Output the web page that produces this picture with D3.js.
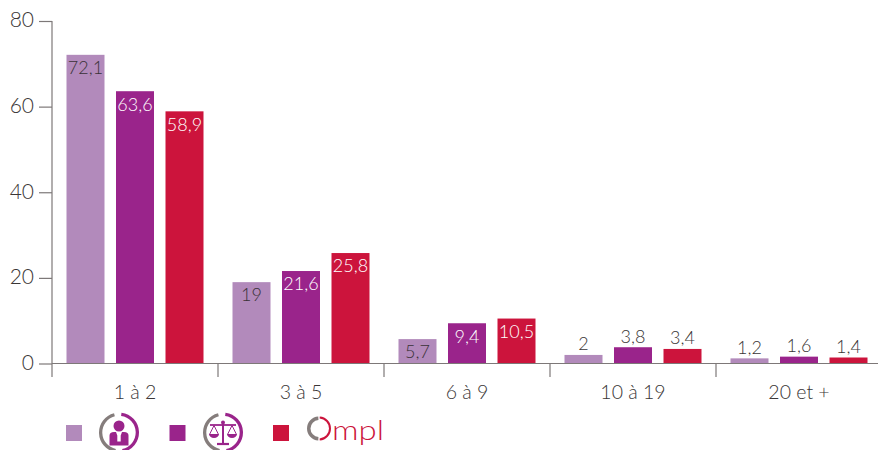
<!DOCTYPE html>
<html><head><meta charset="utf-8">
<script src="https://cdn.jsdelivr.net/npm/d3@7/dist/d3.min.js"></script>
<style>html,body{margin:0;padding:0;background:#fff}svg{display:block}</style>
</head><body><svg id="c" width="878" height="450"></svg>
<script>
const categories = ["1 à 2","3 à 5","6 à 9","10 à 19","20 et +"];
const seriesA = [72.1,19,5.7,2,1.2];
const seriesB = [63.6,21.6,9.4,3.8,1.6];
const seriesC = [58.9,25.8,10.5,3.4,1.4];
const seriesNames = ["a","b","c"];
const seriesColors = ["#b28abb","#9a248b","#cc143c"];
const textColors = ["#3a3238","#ffffff","#ffffff"];
const yTicks = [0,20,40,60,80];
const fontStack = "'Lato','Open Sans',sans-serif";
const axisColor = "#7d7878";
const labelColor = "#3a3636";

const svg = d3.select("#c");
const x0 = d3.scaleBand().domain(categories).range([52,882]);
const x1 = d3.scaleBand().domain(seriesNames).range([14.5,151.5]).paddingInner(0.2323);
const y = d3.scaleLinear().domain([0,80]).range([363.5,21]);
const values = [seriesA,seriesB,seriesC];

// bars
seriesNames.forEach((s,si)=>{
  const g = svg.append("g");
  g.selectAll("rect").data(values[si]).join("rect")
    .attr("x",(d,i)=>x0(categories[i])+x1(s))
    .attr("y",d=>y(d)).attr("width",x1.bandwidth())
    .attr("height",d=>y(0)-y(d)).attr("fill",seriesColors[si]);
  g.selectAll("text").data(values[si]).join("text")
    .attr("x",(d,i)=>x0(categories[i])+x1(s)+x1.bandwidth()/2)
    .attr("y",d=> d>=5 ? y(d)+13 : y(d)-11)
    .attr("dy","0.35em").attr("text-anchor","middle")
    .attr("font-family",fontStack).attr("font-size",18).attr("font-weight",300)
    .attr("fill",d=> d>=5 ? textColors[si] : labelColor)
    .text(d=>String(d).replace(".",","));
});

// axes
const yAxis = d3.axisLeft(y).tickValues(yTicks).tickSize(13).tickPadding(5);
const gy = svg.append("g").attr("transform","translate(52,0)").call(yAxis);
gy.select(".domain").remove();
gy.append("line").attr("y1",y(80)).attr("y2",377).attr("stroke",axisColor).attr("stroke-width",1.2);
gy.selectAll(".tick line").attr("stroke",axisColor).attr("stroke-width",1.2);
gy.selectAll(".tick text").attr("font-family",fontStack).attr("font-size",21).attr("font-weight",300).attr("fill",labelColor).attr("dy","0.28em");

const xAxis = d3.axisBottom(x0).tickSize(0).tickPadding(21.5);
const gx = svg.append("g").attr("transform",`translate(0,${y(0)})`).call(xAxis);
gx.select(".domain").remove();
gx.append("line").attr("x1",52).attr("x2",878).attr("stroke",axisColor).attr("stroke-width",1.2);
gx.selectAll(".sep").data(categories.slice(1)).join("line").attr("class","sep")
  .attr("x1",d=>x0(d)).attr("x2",d=>x0(d)).attr("y1",0).attr("y2",13.5)
  .attr("stroke",axisColor).attr("stroke-width",1.2);
gx.selectAll(".tick text").attr("font-family",fontStack).attr("font-size",19.5).attr("font-weight",300).attr("fill",labelColor);

// legend
const legendX = d3.scalePoint().domain(seriesNames).range([66,273]);
svg.selectAll(".sw").data(seriesNames).join("rect").attr("class","sw")
  .attr("x",d=>legendX(d)).attr("y",425).attr("width",16).attr("height",16)
  .attr("fill",(d,i)=>seriesColors[i]);

const arc = d3.arc();
function ring(cx,cy){
  const g = svg.append("g").attr("transform",`translate(${cx},${cy})`);
  g.append("path").attr("d",arc({innerRadius:16.7,outerRadius:20,startAngle:Math.PI*1.06,endAngle:Math.PI*1.92})).attr("fill","#857d7c");
  g.append("path").attr("d",arc({innerRadius:16.7,outerRadius:20,startAngle:Math.PI*0.04,endAngle:Math.PI*0.94})).attr("fill",seriesColors[1]);
  return g;
}
// person icon
const p = ring(119,432.5);
p.append("circle").attr("cx",0).attr("cy",-6.5).attr("r",5.5).attr("fill",seriesColors[1]);
p.append("path").attr("d","M-9.5,13 V3 Q-9.5,-0.5 -5,-0.5 H5 Q9.5,-0.5 9.5,3 V13 Z").attr("fill",seriesColors[1]);
p.append("path").attr("d","M-3,-0.5 H3 L1.7,3 V9 H-1.7 V3 Z").attr("fill","#fff");
// scales icon
const b = ring(223,432.5);
const st = {stroke:seriesColors[1],"stroke-width":1.6,fill:"none"};
function L(d){const q=b.append("path").attr("d",d);Object.entries(st).forEach(([k,v])=>q.attr(k,v));return q;}
L("M0,-11 V11").attr("stroke-width",2);
L("M-6,11.5 H6").attr("stroke-width",2.2);
L("M-13,-7.5 H13").attr("stroke-width",1.8);
b.append("circle").attr("cy",-10).attr("r",2).attr("fill",seriesColors[1]);
L("M-9,-7 L-13.5,2 M-9,-7 L-4.5,2 M9,-7 L13.5,2 M9,-7 L4.5,2").attr("stroke-width",1);
b.append("path").attr("d","M-14,1.5 H-4 A5,4 0 0 1 -14,1.5 Z").attr("fill",seriesColors[1]);
b.append("path").attr("d","M4,1.5 H14 A5,4 0 0 1 4,1.5 Z").attr("fill",seriesColors[1]);
// Ompl logo
const o = svg.append("g").attr("transform","translate(319,428.5)");
o.append("path").attr("d",arc({innerRadius:8.5,outerRadius:12,startAngle:Math.PI*1.02,endAngle:Math.PI*1.98})).attr("fill","#857d7c");
o.append("path").attr("d",arc({innerRadius:10,outerRadius:12,startAngle:Math.PI*0.02,endAngle:Math.PI*0.98})).attr("fill",seriesColors[2]);
svg.append("text").attr("x",332).attr("y",440).attr("font-family",fontStack).attr("font-size",28).attr("font-weight",300)
  .attr("textLength",52).attr("lengthAdjust","spacingAndGlyphs").attr("fill",seriesColors[2]).text("mpl");
</script></body></html>
